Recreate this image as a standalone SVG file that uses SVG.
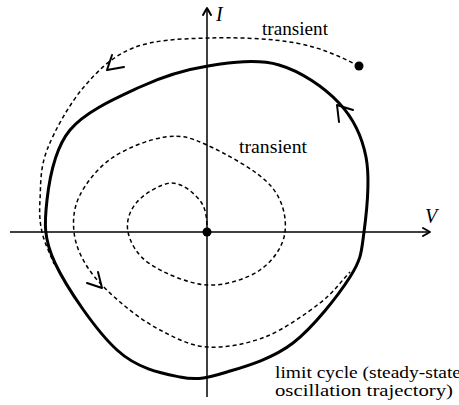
<svg xmlns="http://www.w3.org/2000/svg" width="459" height="405" viewBox="0 0 459 405">
<style>
.axis{fill:none;stroke:#000;stroke-width:1.5}
.cycle{fill:none;stroke:#000;stroke-width:3}
.dash{fill:none;stroke:#000;stroke-width:1.5;stroke-dasharray:4 3}
.head{fill:none;stroke:#000;stroke-width:2;stroke-linecap:round;stroke-linejoin:round}
.lbl{font-family:"Liberation Serif",Tinos,"Times New Roman",serif;font-size:19px;fill:#000}
.lbl2{font-family:"Liberation Serif",Tinos,"Times New Roman",serif;font-size:16px;fill:#000}
.ax{font-family:"Liberation Serif",Tinos,"Times New Roman",serif;font-size:20px;font-style:italic;fill:#000}
</style>
<rect width="459" height="405" fill="#fff"/>
<g id="axes">
<line class="axis" x1="207" y1="397" x2="207" y2="8"/>
<polyline class="head" points="203,15 207,8 211,15"/>
<line class="axis" x1="10" y1="232" x2="430" y2="232"/>
<polyline class="head" points="423,228 430,232 423,236"/>
<text class="ax" x="216" y="21">I</text>
<text class="ax" x="425" y="223">V</text>
</g>
<g id="limit-cycle">
<path class="cycle" d="M208,66 C184.8,69.7 163,76.3 140,87 C117,97.7 85.5,111.2 70,130 C54.5,148.8 49.5,177.8 47,200 C44.5,222.2 43.3,238 55,263 C66.7,288 96.2,331 117,350 C137.8,369 161.7,373.3 180,377 C198.3,380.7 208.2,377.7 227,372 C245.8,366.3 272.5,358.8 293,343 C313.5,327.2 338.2,295.5 350,277 C361.8,258.5 361.3,252 364,232 C366.7,212 370.2,178.5 366,157 C361.8,135.5 353.5,118.3 339,103 C324.5,87.7 300.8,71.2 279,65 C257.2,58.8 231.2,62.3 208,66 Z"/>
<polyline class="head" points="353,110 337,105 339,122"/>
</g>
<g id="transient-outer">
<path class="dash" d="M359,66 C339,56 321.2,47.7 296,43 C270.8,38.3 235.2,37.2 208,38 C180.8,38.8 153.8,39.7 133,48 C112.2,56.3 97.3,71 83,88 C68.7,105 54.2,131.3 47,150 C39.8,168.7 40.8,186.3 40,200 C39.2,213.7 39.7,221.3 42,232 C44.3,242.7 50,253.3 54,264"/>
<polyline class="head" points="124,67 107,70 112,55"/>
<circle cx="359" cy="66" r="4.5" fill="#000"/>
</g>
<g id="transient-inner">
<path class="dash" d="M207,232 C207,222 206.8,210.2 201,202 C195.2,193.8 182.7,183 172,183 C161.3,183 144.3,193.8 137,202 C129.7,210.2 125.8,221.7 128,232 C130.2,242.3 136.8,255.2 150,264 C163.2,272.8 188.7,284 207,285 C225.3,286 247,278.8 260,270 C273,261.2 283.3,246.2 285,232 C286.7,217.8 283,199.5 270,185 C257,170.5 224.5,153 207,145 C189.5,137 180.8,134.8 165,137 C149.2,139.2 126.2,148.3 112,158 C97.8,167.7 86.3,182.7 80,195 C73.7,207.3 72.7,219.8 74,232 C75.3,244.2 80.3,256.3 88,268 C95.7,279.7 108,291.7 120,302 C132,312.3 145.5,322.5 160,330 C174.5,337.5 189.5,345.8 207,347 C224.5,348.2 246.2,344.3 265,337 C283.8,329.7 305.8,313.8 320,303 C334.2,292.2 340,282.3 350,272"/>
<polyline class="head" points="87,283 102,288 98,272"/>
<circle cx="207" cy="232" r="4.5" fill="#000"/>
</g>
<g id="labels">
<text class="lbl" x="262" y="35" textLength="66" lengthAdjust="spacingAndGlyphs">transient</text>
<text class="lbl" x="239" y="153" textLength="68" lengthAdjust="spacingAndGlyphs">transient</text>
<text class="lbl2" x="275" y="378" textLength="186" lengthAdjust="spacingAndGlyphs">limit cycle (steady-state</text>
<text class="lbl2" x="275" y="396" textLength="178" lengthAdjust="spacingAndGlyphs">oscillation trajectory)</text>
</g>
</svg>
